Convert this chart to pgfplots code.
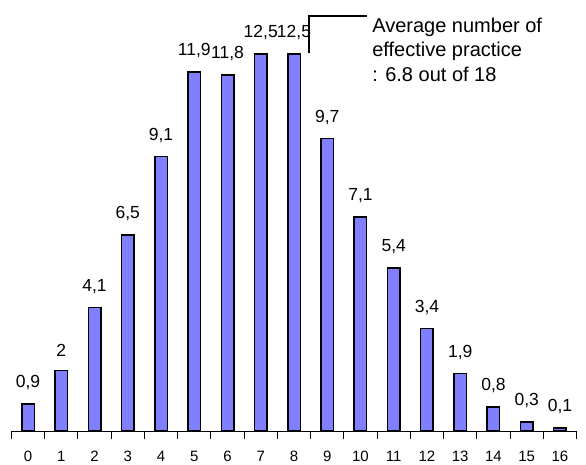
\documentclass[border=0pt]{standalone}
\usepackage{pgfplots}
\pgfplotsset{compat=1.18}
\usepackage{fontspec}
\setmainfont{Liberation Sans}
\definecolor{barblue}{RGB}{128,128,255}
\begin{document}
\begin{tikzpicture}
\path[use as bounding box] (-11.4pt,-33pt) rectangle (574.6pt,431pt);
\begin{axis}[
  at={(0,0)}, anchor=south west,
  scale only axis, width=565.2pt, height=431pt,
  xmin=-0.5, xmax=16.5, ymin=0, ymax=14.29,
  axis x line*=bottom, axis y line=none,
  x axis line style={line width=1pt, black, -},
  xtick={0,...,16},
  major x tick style={draw=none},
  minor xtick={-0.5,0.5,...,16.5},
  minor tick length=8pt,
  minor x tick style={line width=1pt, black},
  tick align=center,
  xticklabel style={font=\fontsize{15}{17}\selectfont, yshift=-12pt},
  /pgf/number format/assume math mode=true,
  clip=false,
  ybar, bar width=12.5pt,
  nodes near coords,
  nodes near coords style={font=\fontsize{17.5}{19}\selectfont, yshift=10pt, /pgf/number format/use comma, /pgf/number format/assume math mode=true},
]
\addplot[fill=barblue, draw=black, line width=1.5pt] coordinates {
 (0,0.9) (1,2) (2,4.1) (3,6.5) (4,9.1) (5,11.9) (6,11.8) (7,12.5) (8,12.5)
 (9,9.7) (10,7.1) (11,5.4) (12,3.4) (13,1.9) (14,0.8) (15,0.3) (16,0.1)
};
\draw[line width=2pt] (axis cs:8.45,12.53) -- (axis cs:8.45,13.76) -- (axis cs:10.2,13.76);
\node[anchor=north west, inner sep=0pt, align=left, font=\fontsize{20}{24.5}\selectfont] at (axis cs:10.35,13.71)
 {Average number of\\effective practice\\: 6.8 out of 18};
\end{axis}
\end{tikzpicture}
\end{document}
